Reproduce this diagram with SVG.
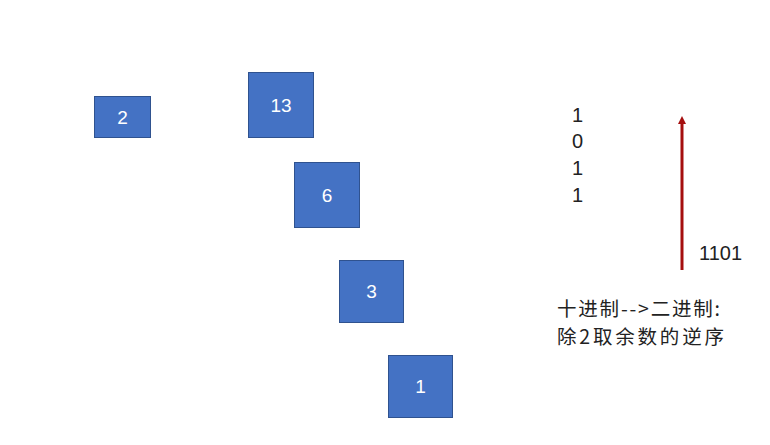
<svg xmlns="http://www.w3.org/2000/svg" width="770" height="445" viewBox="0 0 770 445">
<defs>
<style>
.box{fill:#4472C4;stroke:#2F528F;stroke-width:1}
.bl{font-family:"Liberation Sans","Noto Sans",sans-serif;font-size:19px;fill:#ffffff;text-anchor:middle;dominant-baseline:central}
.t{font-family:"Liberation Sans","Noto Sans CJK SC",sans-serif;font-size:20px;fill:#222222}
.cn{font-family:"Noto Sans CJK SC","Liberation Sans",sans-serif;font-size:19.5px;fill:#222222}
</style>
<marker id="ah" markerWidth="8" markerHeight="8" refX="4" refY="4" orient="auto" markerUnits="userSpaceOnUse">
<path d="M0,0 L8,4 L0,8 z" fill="#A50F0F"/>
</marker>
</defs>
<rect width="770" height="445" fill="#ffffff"/>
<g id="n2"><rect class="box" x="94.5" y="96.5" width="56" height="41"/><text class="bl" x="122.5" y="117">2</text></g>
<g id="n13"><rect class="box" x="248.5" y="72.5" width="65" height="65"/><text class="bl" x="281" y="105">13</text></g>
<g id="n6"><rect class="box" x="294.5" y="162.5" width="65" height="65"/><text class="bl" x="327" y="195">6</text></g>
<g id="n3"><rect class="box" x="339.5" y="260.5" width="64" height="62"/><text class="bl" x="371.5" y="291.5">3</text></g>
<g id="n1"><rect class="box" x="388.5" y="355.5" width="64" height="62"/><text class="bl" x="420.5" y="386.5">1</text></g>
<g id="connectors">
<line x1="682" y1="270" x2="682" y2="120" stroke="#A50F0F" stroke-width="3" marker-end="url(#ah)"/>
</g>
<g id="labels">
<text class="t" x="572" y="122">1</text>
<text class="t" x="572" y="148">0</text>
<text class="t" x="572" y="175">1</text>
<text class="t" x="572" y="202">1</text>
<text class="t" x="699" y="260">1101</text>
<text class="cn" x="557" y="316" textLength="163" lengthAdjust="spacing">十进制--&gt;二进制:</text>
<text class="cn" x="557" y="344" textLength="167" lengthAdjust="spacing">除2取余数的逆序</text>
</g>
</svg>
